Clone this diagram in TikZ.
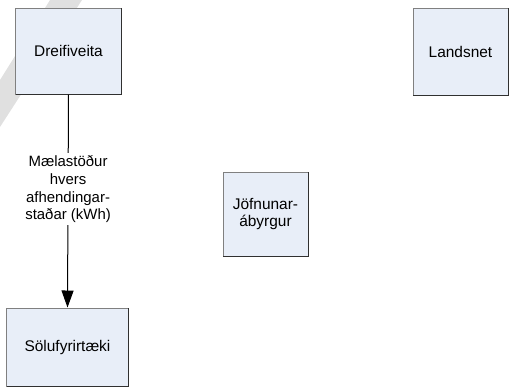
\documentclass[tikz,border=0pt]{standalone}
\usepackage{fontspec}
\setmainfont{Liberation Sans}
\usetikzlibrary{arrows.meta}
\definecolor{boxfill}{HTML}{E8EEF8}
\definecolor{boxline}{HTML}{808080}
\definecolor{boxshade}{HTML}{303030}
\definecolor{wmgray}{HTML}{E0E0E0}
\tikzset{
  entity/.style={draw=boxline, fill=boxfill, line width=1bp, inner sep=2bp,
    align=center, font=\fontsize{15.5}{18}\selectfont},
  boxedge/.style={draw=boxshade, line width=1.6bp},
  flow/.style={draw=black, line width=1bp, -{Triangle[length=17bp,width=12bp]}},
  flowlabel/.style={fill=white, align=center, inner sep=2bp, font=\fontsize{15}{18}\selectfont}
}
\begin{document}
\begin{tikzpicture}[x=1bp,y=-1bp]
\useasboundingbox (0,0) rectangle (512,390);
% faint watermark band
\fill[wmgray] (50,0) -- (82,0) -- (0,127) -- (0,80) -- cycle;
\node[entity, minimum width=105bp, minimum height=86bp] (dre) at (68.5,51) {Dreifiveita};
\node[entity, minimum width=95bp, minimum height=87bp] (lan) at (460.5,51.5) {Landsnet};
\node[entity, minimum width=85bp, minimum height=84bp] (jof) at (265.5,214) {Jöfnunar-\\ábyrgur};
\node[entity, minimum width=121bp, minimum height=78bp] (sol) at (67.5,347) {Sölufyrirtæki};
\foreach \n in {dre,lan,jof,sol}
  \draw[boxedge] ([xshift=0.5bp]\n.south west) -- (\n.south east) -- ([yshift=-0.5bp]\n.north east);
\draw[flow] (dre.south) -- node[flowlabel, pos=0.444] (lab) {Mælastöður\\hvers\\afhendingar-\\staðar (kWh)} (sol.north);
\end{tikzpicture}
\end{document}
